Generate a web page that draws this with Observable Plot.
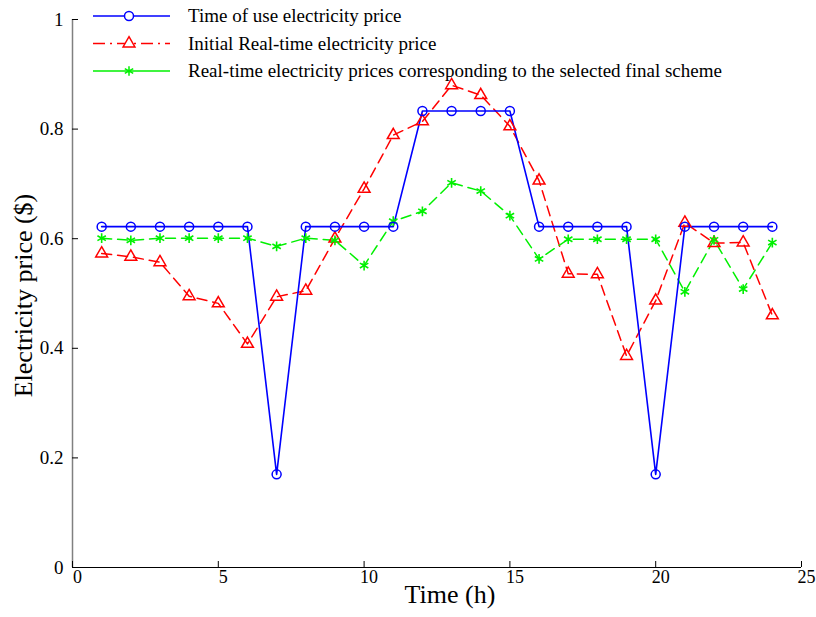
<!DOCTYPE html>
<html><head><meta charset="utf-8">
<script src="https://cdn.jsdelivr.net/npm/d3@7"></script>
<script src="https://cdn.jsdelivr.net/npm/@observablehq/plot@0.6"></script>
<style>
body{margin:0;background:#fff;}
#wrap{position:relative;width:816px;height:617px;font-family:"Liberation Serif","Times New Roman",serif;}
#legend{position:absolute;left:0;top:0;}
</style></head><body><div id="wrap"></div>
<script>
const hours = [1,2,3,4,5,6,7,8,9,10,11,12,13,14,15,16,17,18,19,20,21,22,23,24];
const touPrice = [0.622,0.622,0.622,0.622,0.622,0.622,0.17,0.622,0.622,0.622,0.622,0.833,0.833,0.833,0.833,0.622,0.622,0.622,0.622,0.17,0.622,0.622,0.622,0.622];
const initialRtPrice = [0.573,0.567,0.557,0.495,0.482,0.408,0.494,0.505,0.600,0.691,0.789,0.814,0.880,0.862,0.805,0.706,0.536,0.535,0.386,0.487,0.629,0.592,0.593,0.460];
const finalRtPrice = [0.601,0.597,0.601,0.601,0.601,0.601,0.586,0.601,0.597,0.551,0.632,0.650,0.702,0.687,0.642,0.563,0.599,0.599,0.599,0.599,0.503,0.598,0.508,0.593];
const xTicks = [0,5,10,15,20,25];
const yTicks = [0,0.2,0.4,0.6,0.8,1];
const seriesNames = ["Time of use electricity price","Initial Real-time electricity price","Real-time electricity prices corresponding to the selected final scheme"];
const xLabel = "Time (h)";
const yLabel = "Electricity price ($)";

const rows = s => hours.map((h,i)=>({h, v:s[i]}));
const tou = rows(touPrice), ini = rows(initialRtPrice), fin = rows(finalRtPrice);
const font = "'Liberation Serif','Times New Roman',serif";
const GREEN = "#00f000";

const plot = Plot.plot({
  width:816, height:617,
  marginLeft:72, marginRight:15, marginTop:19, marginBottom:50,
  style:{fontFamily:font, fontSize:"19px", background:"white", color:"black"},
  x:{domain:[0,25]},
  y:{domain:[0,1]},
  marks:[
    Plot.ruleX([0],{stroke:"#808080", strokeWidth:1.5}),
    Plot.ruleY([0],{stroke:"black", strokeWidth:1.2}),
    Plot.axisX({ticks:xTicks, tickSize:6, insetBottom:6, label:null, tickFormat:()=>""}),
    Plot.axisX({ticks:xTicks, tickSize:0, tickPadding:3, dx:5, fontSize:18, label:null, tickFormat:d=>String(d)}),
    Plot.axisY({ticks:yTicks, tickSize:6, insetLeft:6, tickPadding:9, label:null, tickFormat:d=>String(d)}),
    Plot.text([xLabel],{frameAnchor:"bottom", dy:35, dx:13, fontSize:26, fontFamily:font}),
    Plot.text([yLabel],{frameAnchor:"left", textAnchor:"middle", rotate:-90, dx:-49, dy:2, fontSize:26, fontFamily:font}),
    Plot.line(ini,{x:"h", y:"v", stroke:"#ff0000", strokeWidth:1.5, strokeDasharray:"10,6"}),
    Plot.line(fin,{x:"h", y:"v", stroke:GREEN, strokeWidth:1.5, strokeDasharray:"10,6"}),
    Plot.line(tou,{x:"h", y:"v", stroke:"#0000ff", strokeWidth:1.6}),
    Plot.dot(ini,{x:"h", y:"v", symbol:"triangle", r:4.4, stroke:"#ff0000", strokeWidth:1.5, fill:"none"}),
    Plot.dot(fin,{x:"h", y:"v", symbol:"asterisk", r:4.6, stroke:GREEN, strokeWidth:1.6}),
    Plot.dot(tou,{x:"h", y:"v", symbol:"circle", r:4.5, stroke:"#0000ff", strokeWidth:1.5, fill:"none"})
  ]
});
const wrap = document.getElementById("wrap");
wrap.appendChild(plot);

// legend overlay
const leg = d3.select(wrap).append("svg").attr("id","legend").attr("width",816).attr("height",90);
const legRows = [
  {name:seriesNames[0], color:"#0000ff", dash:null, sym:d3.symbolCircle, r:4.5, y:16},
  {name:seriesNames[1], color:"#ff0000", dash:"12,5,2,5", sym:d3.symbolTriangle, r:4.4, y:43.5},
  {name:seriesNames[2], color:GREEN, dash:null, sym:d3.symbolAsterisk, r:4.6, y:71}
];
legRows.forEach(d=>{
  leg.append("line").attr("x1",93).attr("x2",170).attr("y1",d.y).attr("y2",d.y)
     .attr("stroke",d.color).attr("stroke-width",1.6).attr("stroke-dasharray",d.dash);
  leg.append("path").attr("d",d3.symbol(d.sym, Math.PI*d.r*d.r)())
     .attr("transform",`translate(129,${d.y})`).attr("fill", d.sym===d3.symbolAsterisk? "none":"white")
     .attr("stroke",d.color).attr("stroke-width",1.5);
  leg.append("text").attr("x",188).attr("y",d.y).attr("dy","0.32em")
     .attr("font-family",font).attr("font-size",19).text(d.name);
});
</script></body></html>
